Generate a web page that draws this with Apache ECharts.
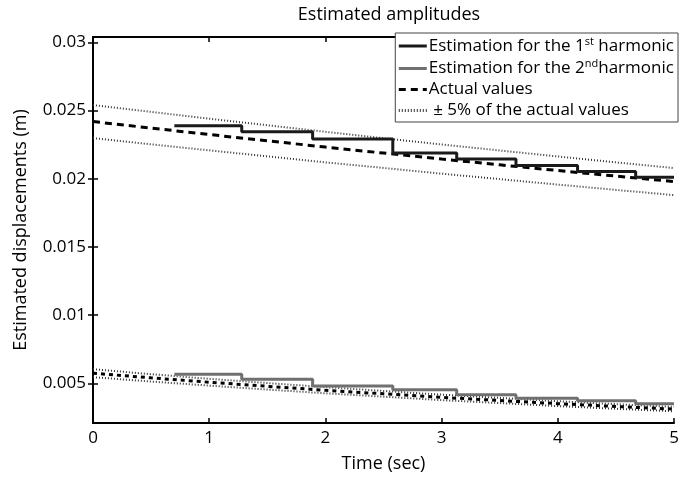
<!DOCTYPE html>
<html>
<head>
<meta charset="utf-8">
<script src="https://cdn.jsdelivr.net/npm/echarts@6/dist/echarts.min.js"></script>
<style>
  html, body { margin: 0; padding: 0; background: #fff; }
  #chart { width: 693px; height: 478px; }
</style>
</head>
<body>
<div id="chart"></div>
<script>
// sample times for the actual curves (sec)
var timeSamples = [0, 0.5, 1, 1.5, 2, 2.5, 3, 3.5, 4, 4.5, 5];

// 1st harmonic: actual values and +/- 5% band
var actual1 = [0.02420, 0.02372, 0.02325, 0.02279, 0.02233, 0.02189, 0.02145, 0.02103, 0.02061, 0.02020, 0.01980];
var upper1 = [0.02541, 0.02491, 0.02441, 0.02393, 0.02345, 0.02298, 0.02252, 0.02208, 0.02164, 0.02121, 0.02079];
var lower1 = [0.02299, 0.02253, 0.02209, 0.02165, 0.02121, 0.02080, 0.02038, 0.01998, 0.01958, 0.01919, 0.01881];

// 2nd harmonic: actual values and +/- 5% band
var actual2 = [0.00575, 0.00541, 0.00509, 0.00479, 0.00450, 0.00424, 0.00398, 0.00375, 0.00352, 0.00331, 0.00312];
var upper2 = [0.00604, 0.00568, 0.00534, 0.00503, 0.00473, 0.00445, 0.00418, 0.00394, 0.00370, 0.00348, 0.00328];
var lower2 = [0.00546, 0.00514, 0.00484, 0.00455, 0.00428, 0.00403, 0.00378, 0.00356, 0.00334, 0.00314, 0.00296];

// step estimates (start time of each step, last point closes the line)
var stepTimes = [0.70, 1.28, 1.89, 2.58, 3.13, 3.64, 4.17, 4.67, 5.0];
var estim1 = [0.02390, 0.02346, 0.02293, 0.02190, 0.02146, 0.02097, 0.02053, 0.02012, 0.02012];
var estim2 = [0.00568, 0.00531, 0.00482, 0.00454, 0.00417, 0.00392, 0.00373, 0.00351, 0.00351];

var yTicks = [0.005, 0.01, 0.015, 0.02, 0.025, 0.03];

var FONT = 'Open Sans';

function pairs(xs, ys) {
  return xs.map(function (x, i) { return [x, ys[i]]; });
}

var chart = echarts.init(document.getElementById('chart'), null, { renderer: 'canvas' });

var axisLine = { show: true, lineStyle: { color: '#000', width: 2 } };
var tick = { show: true, inside: true, length: 5, lineStyle: { color: '#000', width: 1.5 } };
var yTick = { show: true, inside: true, length: 5, lineStyle: { color: '#000', width: 1.5 }, customValues: yTicks };

function line(name, xs, ys, color, width, type, z, step) {
  return {
    name: name, type: 'line', data: pairs(xs, ys), step: step || false,
    showSymbol: false, symbol: 'none', silent: true, z: z,
    itemStyle: { color: color },
    lineStyle: { color: color, width: width, type: type }
  };
}

var option = {
  backgroundColor: '#fff',
  animation: false,
  title: {
    text: 'Estimated amplitudes',
    left: 384, top: 1, textAlign: 'center',
    textStyle: { fontFamily: FONT, fontSize: 18, fontWeight: 'normal', color: '#000' }
  },
  grid: { left: 93, right: 19, top: 37, bottom: 51 },
  legend: {
    orient: 'vertical',
    right: 15, top: 33,
    backgroundColor: '#fff',
    borderColor: '#444', borderWidth: 1,
    padding: [3, 4, 3, 2],
    itemGap: 4,
    itemWidth: 28, itemHeight: 17,
    itemStyle: { opacity: 0 },
    lineStyle: { width: 3 },
    data: ['1st', '2nd', 'Actual values', '5%'],
    textStyle: {
      fontFamily: FONT, fontSize: 17, color: '#000', padding: [0, 0, 0, -3],
      rich: {
        t: { fontFamily: FONT, fontSize: 17, color: '#000' },
        s: { fontFamily: FONT, fontSize: 11, color: '#000', verticalAlign: 'top', padding: [0, 0, 9, 0] }
      }
    },
    formatter: function (name) {
      if (name === '1st') return '{t|Estimation for the 1}{s|st}{t| harmonic}';
      if (name === '2nd') return '{t|Estimation for the 2}{s|nd}{t|harmonic}';
      if (name === '5%') return '{t| \u00b1 5% of the actual values}';
      return '{t|' + name + '}';
    }
  },
  xAxis: [{
    type: 'value', min: 0, max: 5, interval: 1,
    name: 'Time (sec)', nameLocation: 'middle', nameGap: 32,
    nameTextStyle: { fontFamily: FONT, fontSize: 18, color: '#000' },
    axisLine: axisLine, axisTick: tick,
    axisLabel: { color: '#000', fontFamily: FONT, fontSize: 17, margin: 7 },
    splitLine: { show: false }
  }, {
    type: 'value', min: 0, max: 5, interval: 1, position: 'top',
    axisLine: axisLine, axisTick: tick, axisLabel: { show: false }, splitLine: { show: false }
  }],
  yAxis: [{
    type: 'value', min: 0.0021, max: 0.0304,
    name: 'Estimated displacements (m)', nameLocation: 'middle', nameGap: 63,
    nameTextStyle: { fontFamily: FONT, fontSize: 18, color: '#000' },
    axisLine: axisLine, axisTick: yTick,
    axisLabel: {
      color: '#000', fontFamily: FONT, fontSize: 17, margin: 7, customValues: yTicks,
      formatter: function (v) { return String(+v.toFixed(3)); }
    },
    splitLine: { show: false }
  }, {
    type: 'value', min: 0.0021, max: 0.0304, position: 'right',
    axisLine: axisLine, axisTick: yTick,
    axisLabel: { show: false }, splitLine: { show: false }
  }],
  series: [
    line('5%', timeSamples, upper1, '#333', 2, [1, 2], 2),
    line('5%', timeSamples, lower1, '#333', 2, [1, 2], 2),
    line('5%', timeSamples, upper2, '#333', 2, [1, 2], 2),
    line('5%', timeSamples, lower2, '#333', 2, [1, 2], 2),
    line('Actual values', timeSamples, actual1, '#000', 3, [7, 5], 3),
    line('Actual values', timeSamples, actual2, '#000', 3, [4, 4], 3),
    line('1st', stepTimes, estim1, '#1a1a1a', 3, 'solid', 4, 'end'),
    line('2nd', stepTimes, estim2, '#707070', 3, 'solid', 4, 'end')
  ]
};

chart.setOption(option);
</script>
</body>
</html>
